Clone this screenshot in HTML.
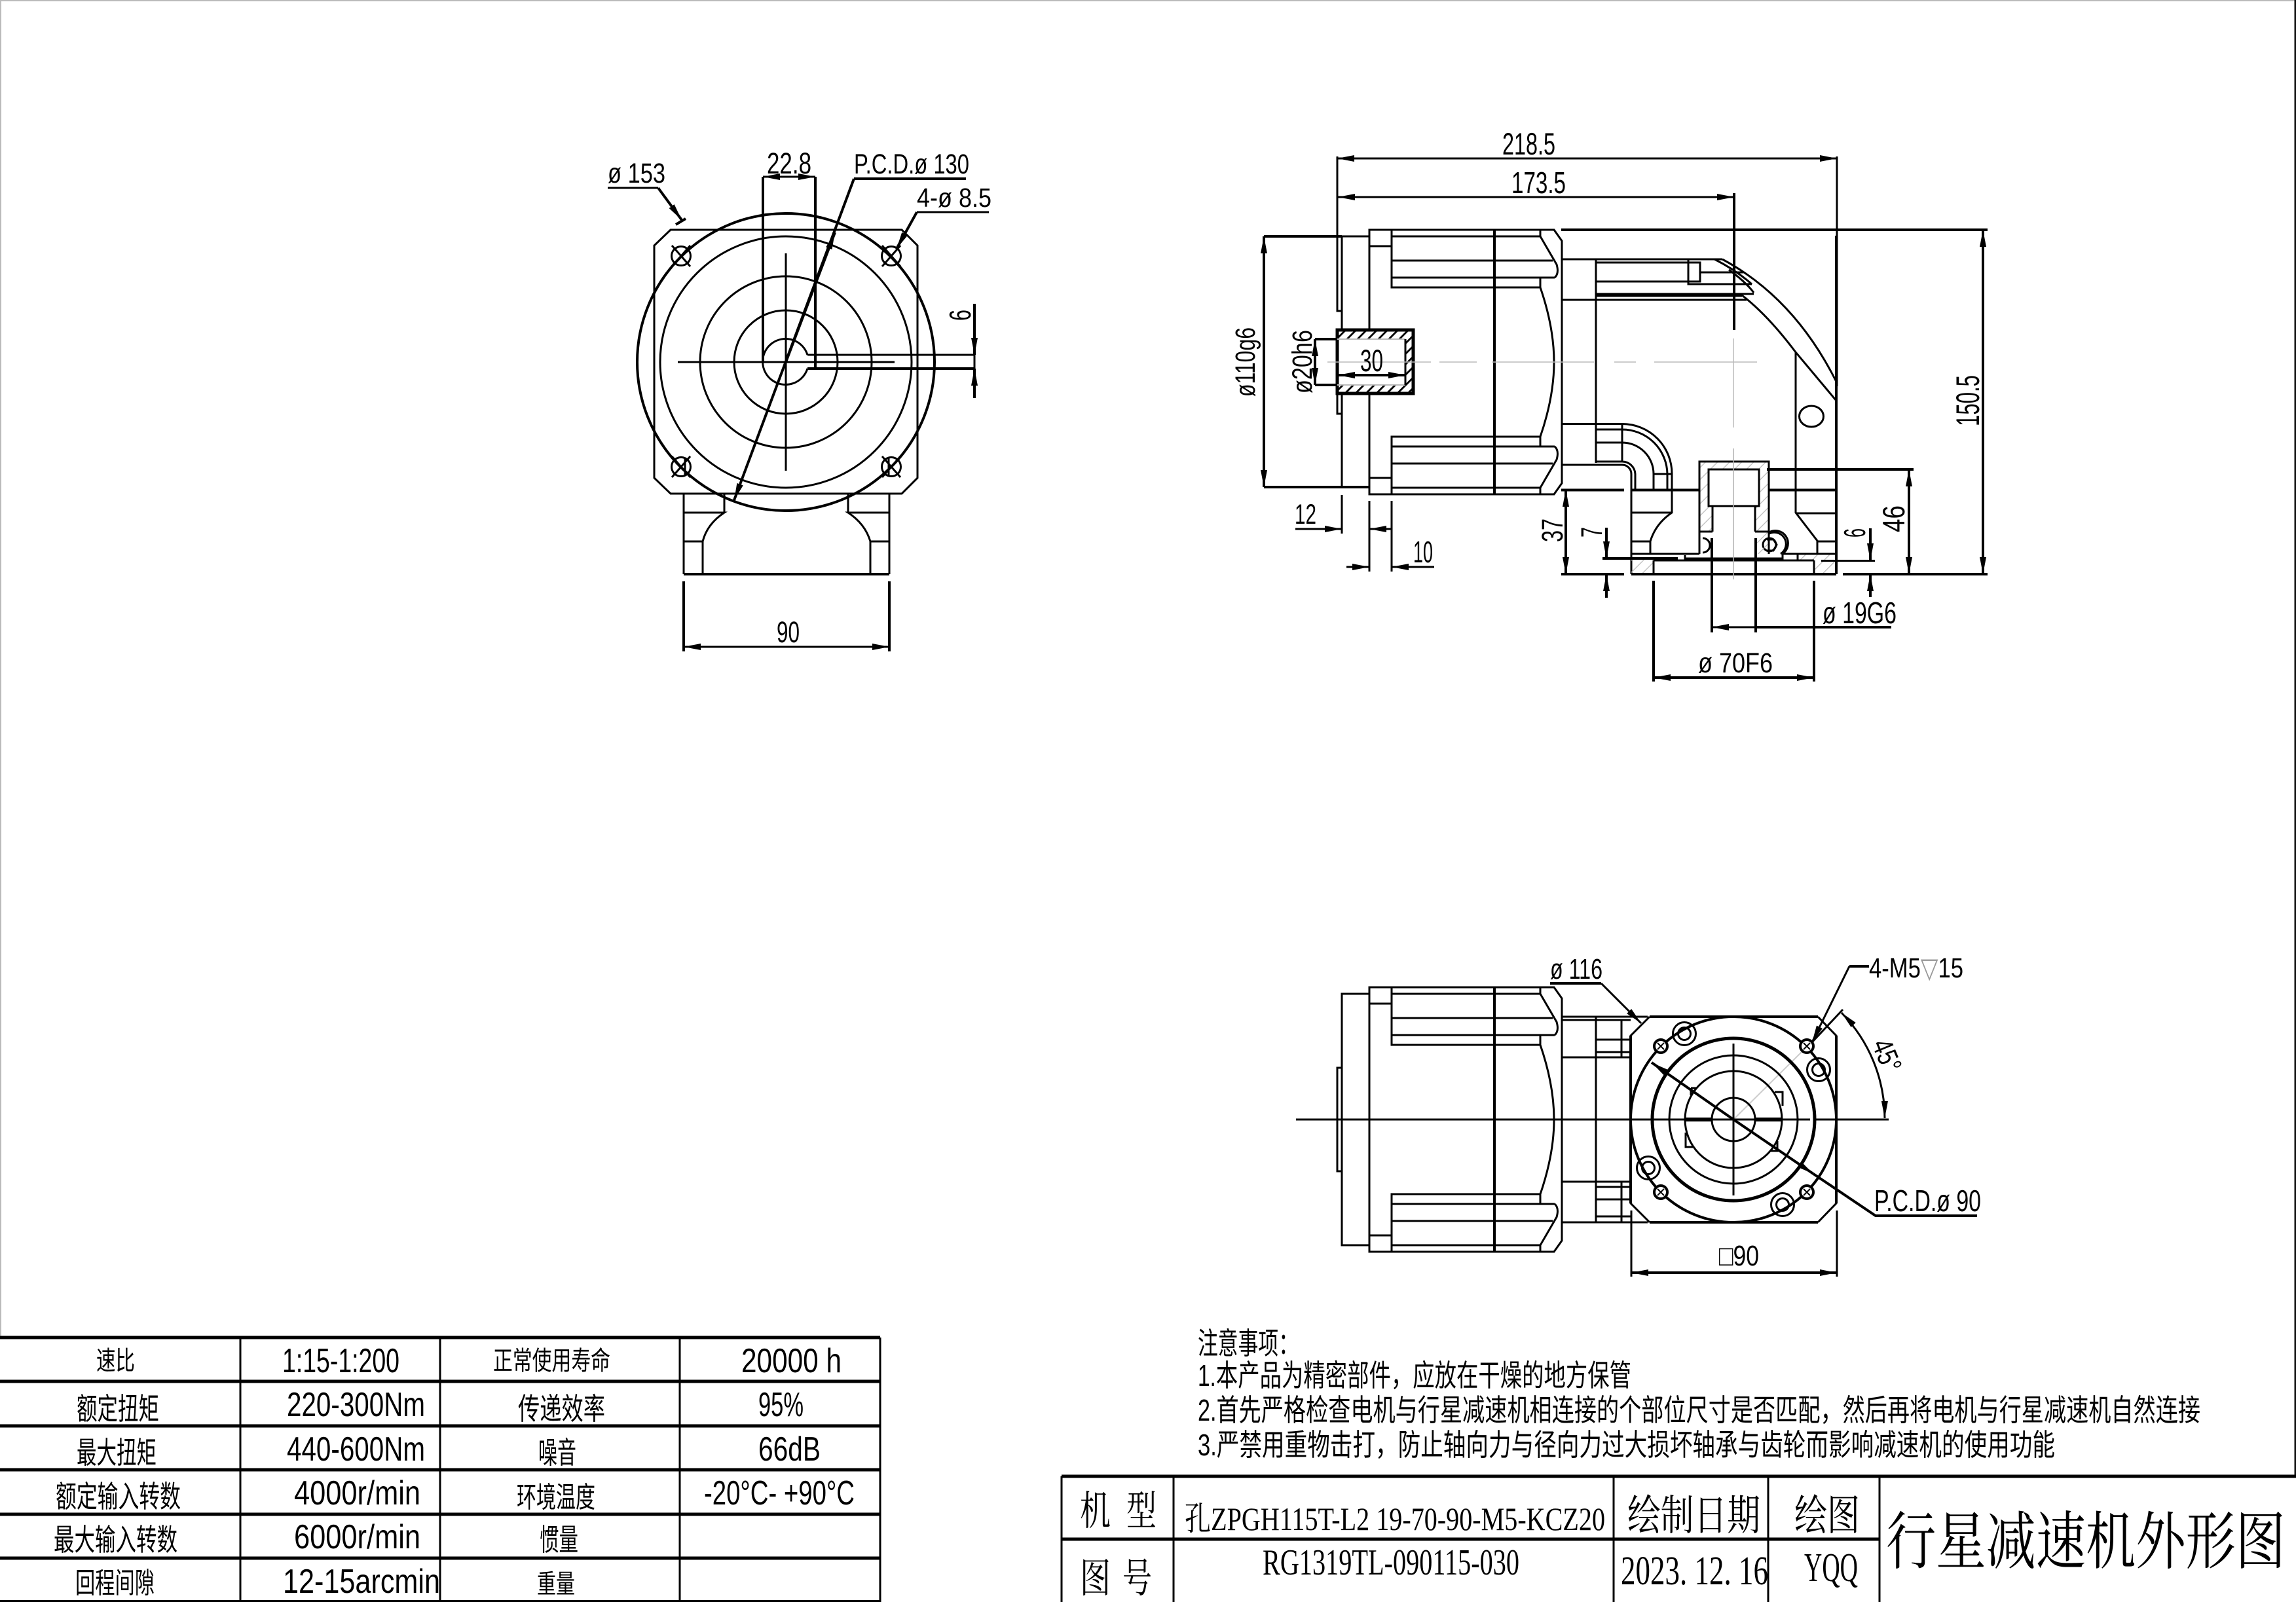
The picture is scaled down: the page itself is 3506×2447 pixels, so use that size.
<!DOCTYPE html>
<html><head><meta charset="utf-8">
<style>
html,body{margin:0;padding:0;background:#fff}
svg{display:block}
.l{fill:none;stroke:#000;stroke-width:3;stroke-linecap:butt;stroke-linejoin:miter}
.m{fill:none;stroke:#000;stroke-width:4}
.k{fill:none;stroke:#000;stroke-width:5}
.g{fill:none;stroke:#bbb;stroke-width:1.5}
.w{fill:#fff;stroke:#000;stroke-width:3}
text{fill:#000;stroke:none}
.a{font-family:"Liberation Sans","DejaVu Sans","Noto Sans CJK SC",sans-serif}
.c{font-family:"Liberation Sans","Noto Sans CJK SC",sans-serif}
.s{font-family:"Liberation Serif","Noto Serif CJK SC",serif}
</style></head><body>
<svg xmlns="http://www.w3.org/2000/svg" width="3506" height="2447" viewBox="0 0 3506 2447">
<defs>
<marker id="a" viewBox="0 0 26 10" refX="26" refY="5" markerWidth="26" markerHeight="10" markerUnits="userSpaceOnUse" orient="auto-start-reverse"><path d="M0 0L26 5L0 10Z" fill="#000"/></marker>
<pattern id="hb" width="11.3" height="11.3" patternUnits="userSpaceOnUse" patternTransform="rotate(45)"><path d="M0 0V11.3" stroke="#000" stroke-width="5.6"/></pattern>
<pattern id="hg" width="13" height="13" patternUnits="userSpaceOnUse" patternTransform="rotate(45)"><path d="M0 0V13" stroke="#bbb" stroke-width="2.5"/></pattern>
<g id="mh">
<path class="l" d="M2091 553V351H2373L2385 368V553"/>
<path class="l" d="M2125 351V439H2352M2091 376H2125M2125 361H2352M2352 351V361L2377 404Q2381 418 2374 424M2125 398H2371M2125 424H2374M2352 424V439Q2373 500 2373 553"/>
<path class="m" d="M2282 351V553"/>
</g>
</defs>
<rect width="3506" height="2447" fill="#fff"/>
<!-- frame -->
<path d="M0 1H3506" stroke="#bbb" stroke-width="2" fill="none"/>
<path d="M1 0V2043" stroke="#bbb" stroke-width="2" fill="none"/>
<path d="M3505 0V2255" stroke="#111" stroke-width="3" fill="none"/>

<!-- LEFT VIEW -->
<path class="l" d="M1024 351H1377L1401 375V730L1377 754H1024L999 730V375Z"/>
<path class="l" d="M1044 754V877M1358 754V877M1106 754V783M1295 754V783M1044 783H1106Q1080 800 1073 827V877M1358 783H1295Q1321 800 1329 827V877M1044 827H1073M1358 827H1329"/>
<path class="m" d="M1044 877H1358"/>
<circle class="m" cx="1200" cy="553" r="227"/>
<circle class="l" cx="1200" cy="553" r="192"/>
<circle class="l" cx="1200" cy="553" r="131"/>
<circle class="l" cx="1200" cy="553" r="79"/>
<path class="l" d="M1233 542A35 35 0 1 0 1233 563"/>
<path class="l" d="M1233 542H1488"/><path class="m" d="M1233 563H1488"/>
<path class="l" d="M1035 553H1366M1200 387V719"/>
<g class="l">
<circle cx="1040" cy="391" r="14.5"/><path d="M1026 375L1054 407M1054 375L1026 407"/>
<circle cx="1361" cy="391" r="14.5"/><path d="M1347 375L1375 407M1375 375L1347 407"/>
<circle cx="1040" cy="713" r="14.5"/><path d="M1026 697L1054 729M1054 697L1026 729M1046 699V727"/>
<circle cx="1361" cy="713" r="14.5"/><path d="M1347 697L1375 729M1375 697L1347 729M1357 699V727"/>
</g>
<path class="m" d="M1165 270V553M1245 270V563"/>
<path class="l" d="M1165 270H1245" marker-start="url(#a)" marker-end="url(#a)"/>
<path class="m" d="M1304 273H1475"/>
<path class="m" d="M1304 273L1121 764" marker-end="url(#a)"/>
<path class="m" d="M1200 553L1275 355" marker-end="url(#a)"/>
<path class="l" d="M928 287H1005"/><path class="m" d="M1005 287L1041 336" marker-end="url(#a)"/><path class="m" d="M1032 343L1047 334"/>
<path class="l" d="M1400 324H1510"/><path class="m" d="M1400 324L1369 380" marker-end="url(#a)"/>
<path class="m" d="M1488 464V542" marker-end="url(#a)"/><path class="m" d="M1488 608V563" marker-end="url(#a)"/><path class="l" d="M1488 542V563"/>
<path class="m" d="M1044 888V995M1358 888V995"/>
<path class="l" d="M1044 988H1358" marker-start="url(#a)" marker-end="url(#a)"/>
<text class="a" x="928" y="279" font-size="43" textLength="88" lengthAdjust="spacingAndGlyphs">ø 153</text>
<text class="a" x="1171" y="265" font-size="45" textLength="68" lengthAdjust="spacingAndGlyphs">22.8</text>
<text class="a" x="1304" y="265" font-size="43" textLength="176" lengthAdjust="spacingAndGlyphs">P.C.D.ø 130</text>
<text class="a" x="1400" y="316" font-size="41" textLength="114" lengthAdjust="spacingAndGlyphs">4-ø 8.5</text>
<text class="a" transform="translate(1482,490) rotate(-90)" font-size="46" textLength="17" lengthAdjust="spacingAndGlyphs">6</text>
<text class="a" x="1186" y="981" font-size="45" textLength="35" lengthAdjust="spacingAndGlyphs">90</text>

<!-- SIDE VIEW -->
<use href="#mh"/>
<use href="#mh" transform="matrix(1 0 0 -1 0 1106)"/>
<path class="l" d="M2049 361V744H2091M2049 361H2091"/>
<path class="l" d="M2042 361V475H2049M2042 601V632H2049"/>
<!-- shaft -->
<rect x="2042" y="504" width="116" height="97" fill="#fff"/>
<path d="M2042 504H2158V601H2042ZM2042 518V588H2146V518Z" fill="url(#hb)" fill-rule="evenodd"/>
<rect x="2042" y="504" width="116" height="97" fill="none" stroke="#000" stroke-width="5"/>
<path d="M2042 518H2146M2042 588H2146" stroke="#bbb" stroke-width="2" fill="none"/>
<path class="l" d="M2146 518V588"/>
<!-- centerlines -->
<path class="g" d="M2027 553H2185M2198 553H2255M2278 553H2434M2465 553H2498M2526 553H2683M2647 517V653M2647 685V885"/>
<!-- gearbox top -->
<path class="l" d="M2385 396H2630M2438 401H2578M2438 430H2578M2438 449H2678M2385 458H2667M2437 452H2660"/>
<path class="l" d="M2437 396V707M2578 396V434H2675M2578 401H2596V430H2578M2596 416H2662"/>
<path class="l" d="M2630 396Q2740 455 2804 583M2618 396Q2650 412 2675 434M2640 412Q2665 430 2678 447M2660 451Q2700 482 2742 538L2804 612"/>
<path class="l" d="M2742 538V783L2775 826V846M2742 784H2804M2775 827H2804"/>
<ellipse class="l" cx="2766" cy="636" rx="18.5" ry="16"/>
<!-- elbow -->
<path class="l" d="M2385 647.5H2477A76 76 0 0 1 2553 724V783Q2528 800 2520 827V846M2437 656H2477A69 69 0 0 1 2546 724V749M2437 676H2477A48 48 0 0 1 2525 724V749M2437 705H2477A20 20 0 0 1 2497 724V749M2385 710H2477A14 14 0 0 1 2491 724V877M2477 647.5V705M2525 724H2553"/>
<path class="m" d="M2384 748.5H2480M2491 748.5H2595M2701 748.5H2804"/>
<path class="l" d="M2491 783H2553M2491 827H2520"/>
<!-- base hatch -->
<rect x="2491" y="853" width="34" height="24" fill="url(#hg)"/>
<rect x="2770" y="846" width="34" height="31" fill="url(#hg)"/>
<rect x="2745" y="846" width="25" height="10" fill="url(#hg)"/>
<path class="l" d="M2491 846H2595M2722 846H2804M2525 856H2770M2525 856V877M2770 856V877M2573 848V853H2722V846M2745 846V856"/>
<path class="m" d="M2400 877H2480M2491 877H2804M2814 877H3035"/>
<!-- bolts -->
<path class="l" d="M2600 822A10 10 0 0 1 2600 844"/>
<path class="l" d="M2700 814A18 18 0 0 1 2722 846M2700 816A16 16 0 0 1 2719 846"/>
<circle class="l" cx="2702" cy="832" r="10"/>
<path class="l" d="M2698 824H2708L2713 832L2708 841H2698"/>
<!-- center block -->
<path d="M2595 705H2701V846H2681V812H2680V773H2615V812H2595ZM2609 717V773H2686V717Z" fill="url(#hg)" fill-rule="evenodd"/>
<path class="l" d="M2595 846V705H2701V846M2609 717H2686V773H2609ZM2615 773V812M2680 773V812M2595 812H2615M2680 812H2701"/>
<path class="m" d="M2614 822V966M2681 822V966"/>
<path class="l" d="M2647 685V885" style="stroke:#bbb;stroke-width:1.5"/>
<!-- dims side -->
<path class="l" d="M2042 239V361M2805 239V590"/>
<path class="m" d="M2804 360V877"/>
<path class="l" d="M2042 242H2805" marker-start="url(#a)" marker-end="url(#a)"/>
<path class="l" d="M2043 301H2648" marker-start="url(#a)" marker-end="url(#a)"/>
<path class="m" d="M2648 295V504"/>
<path class="m" d="M2384 351H3035"/>
<path class="m" d="M3028 351V877" marker-start="url(#a)" marker-end="url(#a)"/>
<path class="m" d="M2698 717H2922"/>
<path class="m" d="M2915 717V877" marker-start="url(#a)" marker-end="url(#a)"/>
<path class="l" d="M2781 856.5H2863"/>
<path class="m" d="M2856 807V856" marker-end="url(#a)"/><path class="m" d="M2856 912V877" marker-end="url(#a)"/>
<path class="m" d="M1930 361H2049M1930 744H2091"/>
<path class="m" d="M1930 361V744" marker-start="url(#a)" marker-end="url(#a)"/>
<path class="m" d="M2008 518H2042M2008 588H2042"/>
<path class="m" d="M2008 518V588" marker-start="url(#a)" marker-end="url(#a)"/>
<path class="m" d="M2043 573H2146" marker-start="url(#a)" marker-end="url(#a)"/>
<path class="l" d="M2049 756V815M2091 765V873M2125 765V873"/>
<path class="l" d="M1978 808H2049" marker-end="url(#a)"/><path class="l" d="M2125 808H2091" marker-end="url(#a)"/>
<path class="l" d="M2056 866H2091" marker-end="url(#a)"/><path class="l" d="M2190 866H2125" marker-end="url(#a)"/>
<path class="m" d="M2384 877H2480"/>
<path class="m" d="M2391 748V877" marker-start="url(#a)" marker-end="url(#a)"/>
<path class="m" d="M2447 853H2562"/>
<path class="m" d="M2453 806V853" marker-end="url(#a)"/><path class="m" d="M2453 913V877" marker-end="url(#a)"/>
<path class="m" d="M2525 887V1041M2770 887V1041"/>
<path class="m" d="M2525 1035H2770" marker-start="url(#a)" marker-end="url(#a)"/>
<path class="m" d="M2681 958H2888"/>
<path class="l" d="M2681 958H2614" marker-end="url(#a)"/>
<text class="a" x="2294" y="236" font-size="47" textLength="81" lengthAdjust="spacingAndGlyphs">218.5</text>
<text class="a" x="2308" y="295" font-size="46" textLength="83" lengthAdjust="spacingAndGlyphs">173.5</text>
<text class="a" x="2077" y="567" font-size="47" textLength="35" lengthAdjust="spacingAndGlyphs">30</text>
<text class="a" transform="translate(2003,601) rotate(-90)" font-size="43" textLength="97" lengthAdjust="spacingAndGlyphs">ø20h6</text>
<text class="a" transform="translate(1916,606) rotate(-90)" font-size="43" textLength="106" lengthAdjust="spacingAndGlyphs">ø110g6</text>
<text class="a" x="1977" y="800" font-size="43" textLength="33" lengthAdjust="spacingAndGlyphs">12</text>
<text class="a" x="2158" y="859" font-size="46" textLength="30" lengthAdjust="spacingAndGlyphs">10</text>
<text class="a" transform="translate(2386,828) rotate(-90)" font-size="45" textLength="36" lengthAdjust="spacingAndGlyphs">37</text>
<text class="a" transform="translate(2446,821) rotate(-90)" font-size="45" textLength="16" lengthAdjust="spacingAndGlyphs">7</text>
<text class="a" transform="translate(2848,821) rotate(-90)" font-size="46" textLength="14" lengthAdjust="spacingAndGlyphs">6</text>
<text class="a" transform="translate(2908,813) rotate(-90)" font-size="47" textLength="41" lengthAdjust="spacingAndGlyphs">46</text>
<text class="a" transform="translate(3022,651) rotate(-90)" font-size="50" textLength="78" lengthAdjust="spacingAndGlyphs">150.5</text>
<text class="a" x="2783" y="952" font-size="46" textLength="113" lengthAdjust="spacingAndGlyphs">ø 19G6</text>
<text class="a" x="2593" y="1027" font-size="43" textLength="114" lengthAdjust="spacingAndGlyphs">ø 70F6</text>

<!-- PLAN VIEW -->
<g transform="translate(0,1157)">
<use href="#mh"/>
<use href="#mh" transform="matrix(1 0 0 -1 0 1106)"/>
</g>
<path class="l" d="M2090 1518H2049V1902H2090M2049 1631H2042V1789H2049"/>
<path class="l" d="M2385 1553H2516M2385 1558H2490M2437 1553V1867M2476 1558V1615M2476 1805V1867M2437 1588H2490M2437 1607H2490M2385 1615H2490M2385 1805H2490M2437 1813H2490M2437 1832H2490M2437 1858H2490M2385 1867H2516"/>
<path d="M2519 1553H2776L2804 1582V1838L2776 1867H2519L2490 1838V1582Z" fill="#fff" stroke="none"/>
<path class="m" d="M2519 1553H2776M2519 1867H2776"/>
<path class="l" d="M2519 1553L2490 1582V1838L2519 1867M2776 1553L2804 1582V1838L2776 1867"/>
<path class="m" d="M2490 1582V1838M2804 1582V1838"/>
<path d="M2647 1710L2758 1600" stroke="#ccc" stroke-width="2" fill="none"/>
<circle class="m" cx="2647" cy="1710" r="157"/>
<circle class="k" cx="2647" cy="1710" r="124"/>
<circle class="l" cx="2647" cy="1710" r="98"/>
<circle class="l" cx="2647" cy="1710" r="74"/>
<circle class="l" cx="2647" cy="1710" r="33"/>
<path class="l" d="M2582 1662V1673M2582 1662H2590M2710 1668H2722V1689M2574 1730V1752H2585M2714 1743V1758H2703"/>
<path class="l" d="M1979 1710H2764M2773 1710H2884M2647 1594V1826"/>
<path d="M2573 1710H2614M2681 1710H2722" stroke="#000" stroke-width="6" fill="none"/>
<g>
<circle class="w" style="stroke-width:4" cx="2536" cy="1598" r="10"/><path class="l" style="stroke-width:2" d="M2531 1593L2541 1603M2541 1593L2531 1603"/>
<circle class="w" style="stroke-width:4" cx="2759" cy="1598" r="10"/><path class="l" style="stroke-width:2" d="M2754 1593L2764 1603M2764 1593L2754 1603"/>
<circle class="w" style="stroke-width:4" cx="2536" cy="1821" r="10"/><path class="l" style="stroke-width:2" d="M2531 1816L2541 1826M2541 1816L2531 1826"/>
<circle class="w" style="stroke-width:4" cx="2759" cy="1821" r="10"/><path class="l" style="stroke-width:2" d="M2754 1816L2764 1826M2764 1816L2754 1826"/>
</g>
<g class="l">
<circle cx="2572" cy="1579" r="17.5"/><circle cx="2572" cy="1579" r="9.5"/>
<circle cx="2777" cy="1634" r="17.5"/><circle cx="2777" cy="1634" r="9.5"/>
<circle cx="2517" cy="1784" r="17.5"/><circle cx="2517" cy="1784" r="9.5"/>
<circle cx="2722" cy="1840" r="17.5"/><circle cx="2722" cy="1840" r="9.5"/>
</g>
<path class="m" d="M2522 1623L2647 1710" marker-start="url(#a)"/>
<path class="m" d="M2647 1710L2769 1793" marker-end="url(#a)"/>
<path class="m" d="M2769 1793L2864 1857H3019"/>
<path class="m" d="M2367 1502H2445"/><path class="l" d="M2445 1502L2506 1563" marker-end="url(#a)"/>
<path class="m" d="M2854 1476H2824"/><path class="l" d="M2824 1476L2767 1592" marker-end="url(#a)"/>
<path class="l" d="M2767 1592L2814 1542"/>
<path class="l" d="M2812 1547A231 231 0 0 1 2878 1708" marker-start="url(#a)" marker-end="url(#a)"/>
<path class="l" d="M2491 1849V1950M2805 1849V1950"/>
<path class="m" d="M2491 1944H2805" marker-start="url(#a)" marker-end="url(#a)"/>
<text class="a" x="2367" y="1495" font-size="44" textLength="80" lengthAdjust="spacingAndGlyphs">ø 116</text>
<text class="a" x="2854" y="1493" font-size="43" textLength="144" lengthAdjust="spacingAndGlyphs">4-M5<tspan fill="#999">▽</tspan>15</text>
<text class="a" x="2862" y="1850" font-size="46" textLength="163" lengthAdjust="spacingAndGlyphs">P.C.D.ø 90</text>
<text class="a" transform="translate(2858,1595) rotate(67.5)" font-size="44" textLength="50" lengthAdjust="spacingAndGlyphs">45°</text>
<text class="a" x="2625" y="1933" font-size="44" textLength="61" lengthAdjust="spacingAndGlyphs">□90</text>

<!-- NOTES -->
<text class="c" x="1829" y="2068" font-size="46" textLength="154" lengthAdjust="spacingAndGlyphs">注意事项：</text>
<text class="c" x="1829" y="2117" font-size="46" textLength="662" lengthAdjust="spacingAndGlyphs">1.本产品为精密部件，应放在干燥的地方保管</text>
<text class="c" x="1829" y="2170" font-size="46" textLength="1531" lengthAdjust="spacingAndGlyphs">2.首先严格检查电机与行星减速机相连接的个部位尺寸是否匹配，然后再将电机与行星减速机自然连接</text>
<text class="c" x="1829" y="2223" font-size="46" textLength="1309" lengthAdjust="spacingAndGlyphs">3.严禁用重物击打，防止轴向力与径向力过大损坏轴承与齿轮而影响减速机的使用功能</text>

<!-- SPEC TABLE -->
<path class="k" d="M0 2043H1344M0 2110H1344M0 2178H1344M0 2245H1344M0 2313H1344M0 2380H1344"/>
<path class="l" d="M0 2445.5H1344M367 2043V2447M672 2043V2447M1038 2043V2447M1344 2043V2447"/>
<g font-size="40">
<text class="c" x="147" y="2092" textLength="59" lengthAdjust="spacingAndGlyphs">速比</text>
<text class="c" x="753" y="2092" textLength="179" lengthAdjust="spacingAndGlyphs">正常使用寿命</text>
<text class="c" x="117" y="2168" font-size="46" textLength="126" lengthAdjust="spacingAndGlyphs">额定扭矩</text>
<text class="c" x="791" y="2168" font-size="46" textLength="133" lengthAdjust="spacingAndGlyphs">传递效率</text>
<text class="c" x="117" y="2235" font-size="46" textLength="122" lengthAdjust="spacingAndGlyphs">最大扭矩</text>
<text class="c" x="822" y="2235" font-size="46" textLength="58" lengthAdjust="spacingAndGlyphs">噪音</text>
<text class="c" x="85" y="2302" font-size="46" textLength="191" lengthAdjust="spacingAndGlyphs">额定输入转数</text>
<text class="c" x="789" y="2302" font-size="44" textLength="120" lengthAdjust="spacingAndGlyphs">环境温度</text>
<text class="c" x="82" y="2368" font-size="46" textLength="189" lengthAdjust="spacingAndGlyphs">最大输入转数</text>
<text class="c" x="824" y="2368" font-size="46" textLength="59" lengthAdjust="spacingAndGlyphs">惯量</text>
<text class="c" x="115" y="2433" font-size="44" textLength="121" lengthAdjust="spacingAndGlyphs">回程间隙</text>
<text class="c" x="820" y="2433" font-size="40" textLength="58" lengthAdjust="spacingAndGlyphs">重量</text>
</g>
<g font-size="52">
<text class="a" x="431" y="2096" textLength="179" lengthAdjust="spacingAndGlyphs">1:15-1:200</text>
<text class="a" x="1132" y="2096" textLength="153" lengthAdjust="spacingAndGlyphs">20000 h</text>
<text class="a" x="438" y="2163" textLength="211" lengthAdjust="spacingAndGlyphs">220-300Nm</text>
<text class="a" x="1158" y="2163" textLength="69" lengthAdjust="spacingAndGlyphs">95%</text>
<text class="a" x="438" y="2231" textLength="211" lengthAdjust="spacingAndGlyphs">440-600Nm</text>
<text class="a" x="1158" y="2231" textLength="95" lengthAdjust="spacingAndGlyphs">66dB</text>
<text class="a" x="449" y="2298" textLength="193" lengthAdjust="spacingAndGlyphs">4000r/min</text>
<text class="a" x="1075" y="2298" textLength="230" lengthAdjust="spacingAndGlyphs">-20°C- +90°C</text>
<text class="a" x="449" y="2365" textLength="193" lengthAdjust="spacingAndGlyphs">6000r/min</text>
<text class="a" x="432" y="2433" textLength="240" lengthAdjust="spacingAndGlyphs">12-15arcmin</text>
</g>

<!-- TITLE BLOCK -->
<path class="k" d="M1621 2255H3506M1621 2351H2870"/>
<path class="l" d="M1621 2255V2447M1792 2255V2447M2464 2255V2447M2700 2255V2447M2870 2255V2447"/>
<text class="s" x="1649" y="2329" font-size="62" textLength="47" lengthAdjust="spacingAndGlyphs">机</text>
<text class="s" x="1720" y="2329" font-size="62" textLength="46" lengthAdjust="spacingAndGlyphs">型</text>
<text class="s" x="1809" y="2337" font-size="50" textLength="642" lengthAdjust="spacingAndGlyphs">孔ZPGH115T-L2 19-70-90-M5-KCZ20</text>
<text class="s" x="2485" y="2337" font-size="64" textLength="203" lengthAdjust="spacingAndGlyphs">绘制日期</text>
<text class="s" x="2740" y="2337" font-size="64" textLength="100" lengthAdjust="spacingAndGlyphs">绘图</text>
<text class="s" x="2880" y="2388" font-size="96" textLength="610" lengthAdjust="spacingAndGlyphs">行星减速机外形图</text>
<text class="s" x="1649" y="2432" font-size="62" textLength="47" lengthAdjust="spacingAndGlyphs">图</text>
<text class="s" x="1714" y="2432" font-size="62" textLength="45" lengthAdjust="spacingAndGlyphs">号</text>
<text class="s" x="1928" y="2405" font-size="56" textLength="392" lengthAdjust="spacingAndGlyphs">RG1319TL-090115-030</text>
<text class="s" x="2475" y="2420" font-size="62" textLength="225" lengthAdjust="spacingAndGlyphs">2023. 12. 16</text>
<text class="s" x="2755" y="2415" font-size="62" textLength="82" lengthAdjust="spacingAndGlyphs">YQQ</text>
</svg>
</body></html>
